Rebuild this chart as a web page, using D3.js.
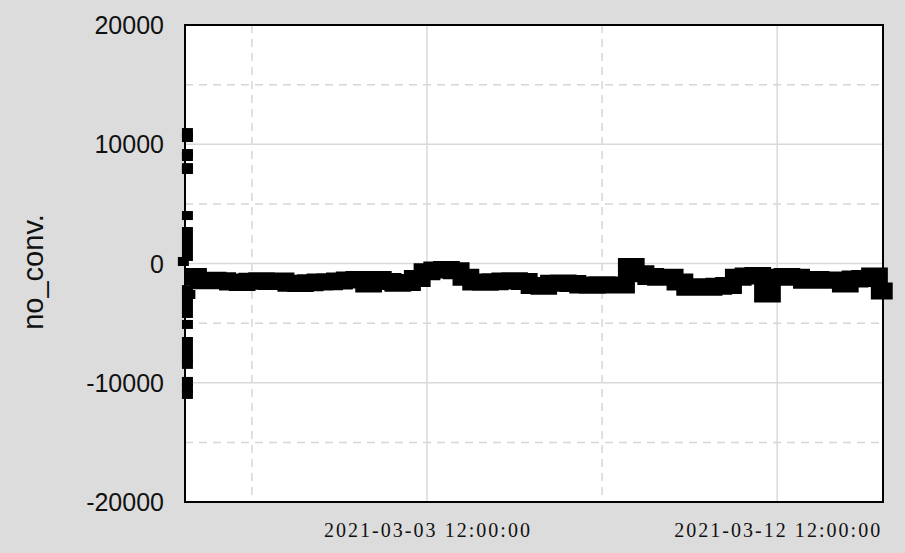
<html>
<head>
<meta charset="utf-8">
<title>no_conv.</title>
<style>
  body {margin: 0; background: #dcdcdc;}
  svg {display: block;}
  .ytick {font-family: "Liberation Sans", Arial, sans-serif; font-size: 25px; fill: #111;}
  .xtick {font-family: "Liberation Serif", "Times New Roman", serif; font-size: 20px; fill: #111;}
  .ylabel {font-family: "Liberation Sans", Arial, sans-serif; font-size: 29px; fill: #111;}
</style>
</head>
<body>
<svg></svg>
<script src="https://d3js.org/d3.v7.min.js"></script>
<script>
// axis range and ticks
const xStart = "2021-02-25T06:45:00";
const xEnd = "2021-03-15T05:15:00";
const xMajorTicks = ["2021-03-03T12:00:00", "2021-03-12T12:00:00"];
const xMinorTicks = ["2021-02-27T00:00:00", "2021-03-08T00:00:00"];
const yMajorTicks = [-20000, -10000, 0, 10000, 20000];
const yMinorTicks = [-15000, -5000, 5000, 15000];

// start-up burst: hours after xStart, values
const spikeHours = [1.5, 1.5, 1.5, 1.5, 1.5, 1.5, 1.5, 1.5, 1.5, 1.5, 1.5, -1,
                    1.5, 1.5, 1.5, 1.5, 3, 1.5, 1.5, 1.5, 1.5, 1.5, 1.5, 1.5, 1.5];
const spikeValues = [10980, 10560, 9220, 8970, 8040, 7880, 4020, 2680, 2010, 1340, 590, 170,
                     -2190, -2850, -3520, -4190, -2600, -5110, -6540, -7210, -7880, -8460, -9890, -10480, -10980];

// main series, one value every 6 hours from seriesStart
const seriesStart = "2021-02-25T12:00:00";
const seriesValues = [
  -1100, -1450, -1400, -1450, -1550, -1600, -1480, -1450, -1500, -1470,
  -1650, -1670, -1620, -1550, -1520, -1470, -1380, -1350, -1720, -1350,
  -1500, -1650, -1600, -1250, -700, -550, -500, -600, -1150, -1550,
  -1570, -1530, -1470, -1450, -1500, -1850, -1900, -1650, -1630, -1670,
  -1800, -1820, -1790, -1810, -1800, -250, -850, -1100, -1150, -1150,
  -1550, -2000, -1950, -2000, -1900, -1850, -1150, -1050, -1000, -2550,
  -1150, -1100, -1150, -1400, -1350, -1400, -1380, -1720, -1300, -1250,
  -1050, -2300
];

const width = 905, height = 553;
const margin = {top: 25, right: 22, bottom: 51, left: 185};

const parse = d3.isoParse;
const t0 = parse(xStart);
const s0 = parse(seriesStart);

const series = seriesValues.map((v, i) => ({t: d3.timeHour.offset(s0, i * 6), v: v}));
const spike = spikeValues.map((v, i) => ({t: new Date(+t0 + spikeHours[i] * 3600e3), v: v}));

const svg = d3.select("svg").attr("width", width).attr("height", height);

const x = d3.scaleTime()
  .domain([t0, parse(xEnd)])
  .range([margin.left, width - margin.right]);
const y = d3.scaleLinear()
  .domain([-20000, 20000])
  .range([height - margin.bottom, margin.top]);

svg.append("rect")
  .attr("x", margin.left).attr("y", margin.top)
  .attr("width", width - margin.left - margin.right)
  .attr("height", height - margin.top - margin.bottom)
  .attr("fill", "#fff");

let grid = svg.append("g");
grid.selectAll(".hmin").data(yMinorTicks).join("line")
  .attr("x1", margin.left).attr("x2", width - margin.right)
  .attr("y1", d => y(d)).attr("y2", d => y(d))
  .attr("stroke", "#d6d6d6").attr("stroke-width", 1.5).attr("stroke-dasharray", "8,6");
grid.selectAll(".vmin").data(xMinorTicks).join("line")
  .attr("x1", d => x(parse(d))).attr("x2", d => x(parse(d)))
  .attr("y1", margin.top).attr("y2", height - margin.bottom)
  .attr("stroke", "#d6d6d6").attr("stroke-width", 1.5).attr("stroke-dasharray", "8,6");
grid.selectAll(".hmaj").data(yMajorTicks.slice(1, -1)).join("line")
  .attr("x1", margin.left).attr("x2", width - margin.right)
  .attr("y1", d => y(d)).attr("y2", d => y(d))
  .attr("stroke", "#d9d9d9").attr("stroke-width", 1.5);
grid.selectAll(".vmaj").data(xMajorTicks).join("line")
  .attr("x1", d => x(parse(d))).attr("x2", d => x(parse(d)))
  .attr("y1", margin.top).attr("y2", height - margin.bottom)
  .attr("stroke", "#d9d9d9").attr("stroke-width", 1.5);

// data
const line = d3.line()
  .x(d => x(d.t))
  .y(d => y(d.v))
  .curve(d3.curveStep);

svg.append("path")
  .datum(series)
  .attr("d", line)
  .attr("fill", "none")
  .attr("stroke", "#000")
  .attr("stroke-width", 17)
  .attr("stroke-linejoin", "miter")
  .attr("stroke-linecap", "square");

svg.append("g").selectAll("rect").data(spike).join("rect")
  .attr("x", d => x(d.t) - 5.5)
  .attr("y", d => y(d.v) - 4.5)
  .attr("width", 11).attr("height", 9)
  .attr("fill", "#000");

// frame
svg.append("rect")
  .attr("x", margin.left).attr("y", margin.top)
  .attr("width", width - margin.left - margin.right)
  .attr("height", height - margin.top - margin.bottom)
  .attr("fill", "none").attr("stroke", "#000").attr("stroke-width", 2);

// tick labels
svg.append("g").selectAll("text").data(yMajorTicks).join("text")
  .attr("class", "ytick")
  .attr("x", 164).attr("y", d => y(d))
  .attr("text-anchor", "end")
  .attr("dominant-baseline", "central")
  .text(d => d);

const fmt = d3.timeFormat("%Y-%m-%d %H:%M:%S");
svg.append("g").selectAll("text").data(xMajorTicks).join("text")
  .attr("class", "xtick")
  .attr("x", d => x(parse(d))).attr("y", 537)
  .attr("text-anchor", "middle")
  .attr("textLength", 206)
  .attr("lengthAdjust", "spacing")
  .text(d => fmt(parse(d)));

svg.append("text")
  .attr("class", "ylabel")
  .attr("transform", "translate(43," + 272 + ") rotate(-90)")
  .attr("text-anchor", "middle")
  .text("no_conv.");
</script>
</body>
</html>
